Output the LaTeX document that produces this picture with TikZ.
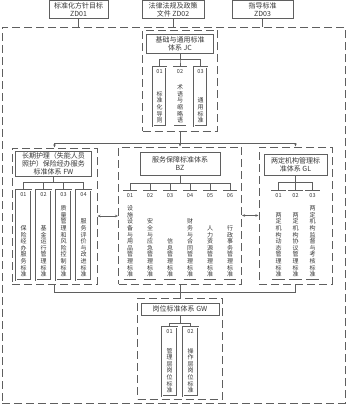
\documentclass[tikz,border=0pt]{standalone}
\usepackage{fontspec}
\setmainfont{Noto Sans CJK SC}
\usepackage{xcolor}
\usepackage{tikz}
\usetikzlibrary{arrows.meta, positioning}
\definecolor{linegray}{RGB}{95,95,95}
\definecolor{textgray}{RGB}{55,55,55}

\begin{document}
\begin{tikzpicture}[x=1pt, y=-1pt,
  head/.style={rectangle, draw=linegray, line width=0.6pt, fill=white, align=center, inner sep=0pt, text=textgray, font=\fontsize{7}{8}\selectfont},
  group/.style={rectangle, draw=linegray, line width=1pt, dash pattern=on 8pt off 4pt, inner sep=0pt},
  item/.style={rectangle, draw=linegray, line width=0.4pt, double=white, double distance=0.9pt, inner sep=0pt, anchor=north},
  num/.style={anchor=north, inner sep=0pt, text=textgray, font=\fontsize{5.5}{6}\selectfont},
  chars/.style={anchor=south, inner sep=0pt, align=center, text=textgray, font=\fontsize{6}{6.6}\selectfont},
  link/.style={draw=linegray, line width=0.6pt},
  arrow/.style={link, -{Stealth[length=3pt, width=2.5pt]}},
  darrow/.style={link, {Stealth[length=3pt, width=2.5pt]}-{Stealth[length=3pt, width=2.5pt]}}
]
\useasboundingbox (0,0) rectangle (351,407);

% guiding documents
\node[head, minimum width=59, minimum height=18] (zd1) at (78.5, 9.5) {标准化方针目标\\ZD01};
\node[head, minimum width=62, minimum height=18] (zd2) at (173, 9.5) {法律法规及政策\\文件 ZD02};
\node[head, minimum width=61, minimum height=18] (zd3) at (262.5, 9.5) {指导标准\\ZD03};

% dashed groups
\node[group, minimum width=343, minimum height=376] (outer) at (173.5, 215) {};
\node[group, minimum width=75, minimum height=101] (jcg) at (180, 80.5) {};
\node[group, minimum width=85, minimum height=136] (fwg) at (54.5, 216) {};
\node[group, minimum width=123, minimum height=137] (bzg) at (180, 215.5) {};
\node[group, minimum width=73, minimum height=137] (glg) at (295.5, 215.5) {};
\node[group, minimum width=85, minimum height=101] (gwg) at (180, 348.5) {};

% headings
\node[head, minimum width=67, minimum height=19] (jch) at (180, 43.5) {基础与通用标准\\体系 JC};
\node[head, minimum width=76, minimum height=25] (fwh) at (53.5, 163.5) {长期护理（失能人员\\照护）保险经办服务\\标准体系 FW};
\node[head, minimum width=80, minimum height=23] (bzh) at (180, 163.5) {服务保障标准体系\\BZ};
\node[head, minimum width=63, minimum height=21] (glh) at (295.5, 164.5) {两定机构管理标\\准体系 GL};
\node[head, minimum width=78, minimum height=12] (gwh) at (180, 309) {岗位标准体系 GW};

% standards
\foreach \i/\cx/\nr/\words in {1/159.5/01/标\\准\\化\\导\\则, 2/180/02/术\\语\\与\\缩\\略\\语, 3/200.5/03/通\\用\\标\\准}{
  \node[item, minimum width=13, minimum height=59] (jc\i) at (\cx, 67) {};
  \node[num] (jcn\i) at ([yshift=-2.5pt]jc\i.north) {\nr};
  \node[chars] (jct\i) at ([yshift=3pt]jc\i.south) {\words};
  \draw[link] (jch.south) -- ++(0,6) -| (jc\i.north);
}
\foreach \i/\cx/\nr/\words in {1/23.5/01/保\\险\\经\\办\\服\\务\\标\\准, 2/43.5/02/基\\金\\运\\行\\管\\理\\标\\准, 3/63.5/03/质\\量\\管\\理\\和\\风\\险\\控\\制\\标\\准, 4/83.5/04/服\\务\\评\\价\\与\\改\\进\\标\\准}{
  \node[item, minimum width=15, minimum height=90] (fw\i) at (\cx, 190) {};
  \node[num] (fwn\i) at ([yshift=-2.5pt]fw\i.north) {\nr};
  \node[chars] (fwt\i) at ([yshift=3pt]fw\i.south) {\words};
  \draw[link] (fwh.south) -- ++(0,6) -| (fw\i.north);
}
\foreach \i/\cx/\nr/\words in {1/130/01/设\\施\\设\\备\\与\\用\\品\\管\\理\\标\\准, 2/150/02/安\\全\\与\\应\\急\\管\\理\\标\\准, 3/170/03/信\\息\\管\\理\\标\\准, 4/190/04/财\\务\\与\\合\\同\\管\\理\\标\\准, 5/210/05/人\\力\\资\\源\\管\\理\\标\\准, 6/230/06/行\\政\\事\\务\\管\\理\\标\\准}{
  \node[item, minimum width=13, minimum height=89] (bz\i) at (\cx, 191) {};
  \node[num] (bzn\i) at ([yshift=-2.5pt]bz\i.north) {\nr};
  \node[chars] (bzt\i) at ([yshift=3pt]bz\i.south) {\words};
  \draw[link] (bzh.south) -- ++(0,8) -| (bz\i.north);
}
\foreach \i/\cx/\nr/\words in {1/278.5/01/两\\定\\机\\构\\动\\态\\管\\理\\标\\准, 2/295.5/02/两\\定\\机\\构\\协\\议\\管\\理\\标\\准, 3/312.5/03/两\\定\\机\\构\\监\\督\\与\\考\\核\\标\\准}{
  \node[item, minimum width=14, minimum height=89] (gl\i) at (\cx, 191) {};
  \node[num] (gln\i) at ([yshift=-2.5pt]gl\i.north) {\nr};
  \node[chars] (glt\i) at ([yshift=3pt]gl\i.south) {\words};
  \draw[link] (glh.south) -- ++(0,7) -| (gl\i.north);
}
\foreach \i/\cx/\nr/\words in {1/169.5/01/管\\理\\层\\岗\\位\\标\\准, 2/190.5/02/操\\作\\层\\岗\\位\\标\\准}{
  \node[item, minimum width=15, minimum height=69] (gw\i) at (\cx, 327) {};
  \node[num] (gwn\i) at ([yshift=-2.5pt]gw\i.north) {\nr};
  \node[chars] (gwt\i) at ([yshift=3pt]gw\i.south) {\words};
  \draw[link] (gwh.south) -- ++(0,8) -| (gw\i.north);
}

% connectors
\draw[link] (zd1.south) -- (zd1.south |- outer.north);
\draw[link] (zd2.south) -- (zd2.south |- outer.north);
\draw[link] (zd3.south) -- (zd3.south |- outer.north);
\draw[link] (jcg.south) -- ++(0,12) coordinate (split);
\draw[arrow] (split) -| (fwg.north);
\draw[arrow] (split) -| (glg.north);
\draw[arrow] (split) -- (bzg.north);
\draw[darrow] (fwg.east) -- (fwg.east -| bzg.west);
\draw[darrow] (bzg.east) -- (bzg.east -| glg.west);
\draw[link] (fwg.south) -- ++(0,8) -| (glg.south);
\draw[link] (bzg.south) -- (gwg.north);
\end{tikzpicture}
\end{document}
